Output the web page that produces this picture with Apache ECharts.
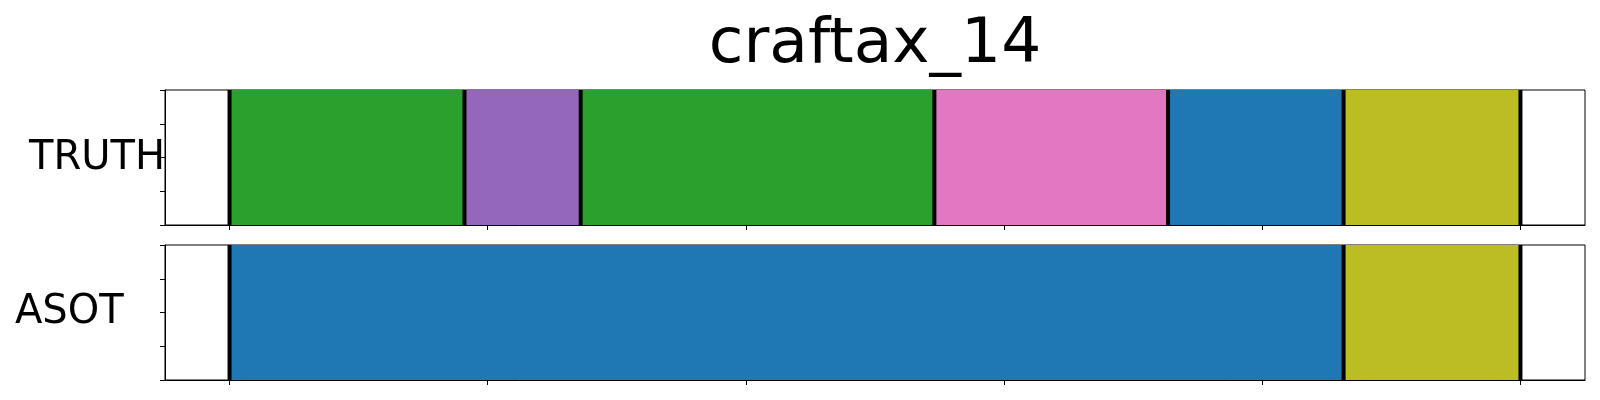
<!DOCTYPE html>
<html>
<head>
<meta charset="utf-8">
<script src="https://cdn.jsdelivr.net/npm/echarts@6/dist/echarts.min.js"></script>
<style>html,body{margin:0;padding:0;background:#fff}#c{width:1600px;height:400px}</style>
</head>
<body>
<div id="c"></div>
<script>
const chartTitle = 'craftax_14';
const rowNames = ['TRUTH', 'ASOT'];
const classColors = ['#2ca02c', '#9467bd', '#e377c2', '#1f77b4', '#bcbd22'];
// segment boundaries (frame positions, sequence normalised to 0..100)
const truthBounds = [0, 18.2, 27.2, 54.6, 72.7, 86.3, 100];
const truthClasses = [0, 1, 0, 2, 3, 4];
const asotBounds = [0, 86.3, 100];
const asotClasses = [3, 4];
const xTicks = [0, 20, 40, 60, 80, 100];
const yTicks = [0, 1, 2, 3, 4];

function segs(bounds, classes) {
  return classes.map((c, i) => [bounds[i], bounds[i + 1], c]);
}

const chart = echarts.init(document.getElementById('c'), null, {renderer: 'canvas'});
const FONT = 'DejaVu Sans';
const grids = [
  {left: 165, right: 15, top: 90, height: 135, show: true, borderColor: '#000', borderWidth: 1, backgroundColor: 'transparent'},
  {left: 165, right: 15, top: 245, height: 135, show: true, borderColor: '#000', borderWidth: 1, backgroundColor: 'transparent'}
];
function xAxis(i) {
  return {type: 'value', gridIndex: i, min: -5, max: 105,
    axisLine: {show: true, onZero: false, lineStyle: {color: '#000', width: 1}},
    axisTick: {show: true, inside: false, length: 5, customValues: xTicks, lineStyle: {color: '#000', width: 1}},
    axisLabel: {show: false}, splitLine: {show: false}};
}
function yAxis(i) {
  return {type: 'value', gridIndex: i, min: 0, max: 4, interval: 1,
    axisLine: {show: true, onZero: false, lineStyle: {color: '#000', width: 1}},
    axisTick: {show: true, inside: false, length: 5, customValues: yTicks, lineStyle: {color: '#000', width: 1}},
    axisLabel: {show: false}, splitLine: {show: false}};
}
function segSeries(i, data) {
  return {type: 'custom', xAxisIndex: i, yAxisIndex: i, clip: true, data: data,
    renderItem: function (params, api) {
      const p0 = api.coord([api.value(0), 0]);
      const p1 = api.coord([api.value(1), 4]);
      return {type: 'rect', shape: {x: p0[0], y: p1[1], width: p1[0] - p0[0], height: p0[1] - p1[1]},
        style: {fill: classColors[api.value(2)], stroke: null}};
    }};
}
function lineSeries(i, bounds) {
  return {type: 'custom', xAxisIndex: i, yAxisIndex: i, clip: false, data: bounds.map(b => [b]),
    renderItem: function (params, api) {
      const p0 = api.coord([api.value(0), 0]);
      const p1 = api.coord([api.value(0), 4]);
      return {type: 'line', shape: {x1: p0[0], y1: p0[1], x2: p1[0], y2: p1[1]},
        style: {stroke: '#000', lineWidth: 4}};
    }};
}
chart.setOption({
  animation: false,
  backgroundColor: '#fff',
  grid: grids,
  xAxis: [xAxis(0), xAxis(1)],
  yAxis: [yAxis(0), yAxis(1)],
  series: [
    segSeries(0, segs(truthBounds, truthClasses)),
    lineSeries(0, truthBounds),
    segSeries(1, segs(asotBounds, asotClasses)),
    lineSeries(1, asotBounds)
  ],
  graphic: [
    {type: 'text', x: 875, y: 46, style: {text: chartTitle, font: '63px "' + FONT + '"', fill: '#000', align: 'center', verticalAlign: 'middle'}},
    {type: 'text', x: 29, y: 159, style: {text: rowNames[0], font: '40px "' + FONT + '"', fill: '#000', align: 'left', verticalAlign: 'middle'}},
    {type: 'text', x: 15, y: 313, style: {text: rowNames[1], font: '40px "' + FONT + '"', fill: '#000', align: 'left', verticalAlign: 'middle'}}
  ]
});
</script>
</body>
</html>
